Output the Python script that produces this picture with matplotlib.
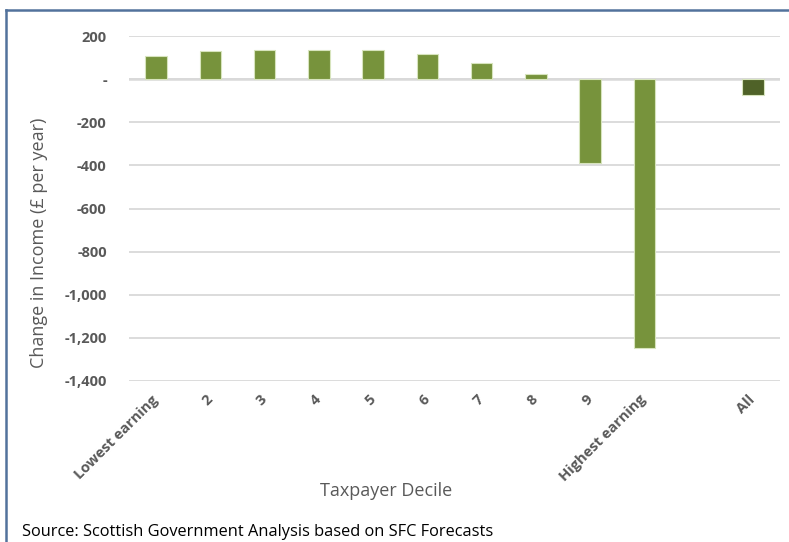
"""Change in income by taxpayer decile - bar chart recreation."""
import numpy as np
import matplotlib
matplotlib.use("Agg")
import matplotlib.pyplot as plt
from matplotlib.lines import Line2D
from matplotlib.ticker import FuncFormatter

plt.rcParams["font.family"] = ["Open Sans", "DejaVu Sans"]

C_BAR = "#77933C"
C_ALL = "#4F6228"
C_EDGE = "#D7E4BD"
C_GRID = "#D9D9D9"
C_TEXT = "#595959"
C_FRAME = "#52729C"

categories = ["Lowest earning", "2", "3", "4", "5", "6", "7", "8", "9",
              "Highest earning", "", "All"]
change = [108, 131, 134, 134, 134, 116, 75, 22, -388, -1245, np.nan, -73]
bar_colors = [C_BAR] * 10 + [C_BAR, C_ALL]

W, H = 789, 542
fig = plt.figure(figsize=(W / 100, H / 100), dpi=100)
fig.patch.set_facecolor("white")

ax = fig.add_axes([129 / W, 1 - 381 / H, 651 / W, 345 / H])
x = np.arange(len(categories))
ax.bar(x, change, width=0.4, color=bar_colors, edgecolor=C_EDGE,
       linewidth=0.8, zorder=3)

ax.set_xlim(-0.5, len(categories) - 0.5)
ax.set_ylim(-1400, 200)
ax.set_yticks(np.arange(-1400, 201, 200))
ax.yaxis.set_major_formatter(
    FuncFormatter(lambda v, _: "-" if v == 0 else f"{int(v):,}")
)
ax.grid(axis="y", color=C_GRID, linewidth=1.3, zorder=0)
ax.axhline(0, color=C_GRID, linewidth=1.8, zorder=1)
for s in ax.spines.values():
    s.set_visible(False)
ax.tick_params(axis="both", length=0, colors=C_TEXT)
ax.tick_params(axis="y", pad=16)

for lab in ax.get_yticklabels():
    lab.set_fontweight("bold")
    lab.set_fontsize(10.5)

ax.set_xticks(x)
ax.set_xticklabels(categories, rotation=45, ha="right", va="center",
                   rotation_mode="anchor", fontsize=10.5, fontweight="bold",
                   color=C_TEXT)
ax.tick_params(axis="x", pad=12)

ax.set_ylabel("Change in Income (£ per year)", fontsize=13, color=C_TEXT)
ax.yaxis.set_label_coords(-0.125, 0.40)
fig.text(386 / W, 1 - 491 / H, "Taxpayer Decile", ha="center", va="center",
         fontsize=13, color=C_TEXT)

fig.text(22 / W, 1 - 532 / H,
         "Source: Scottish Government Analysis based on SFC Forecasts",
         ha="left", va="center", fontsize=11.8, color="black")

# chart frame, clipped by the figure edge on the right and bottom
fig.add_artist(Line2D([6 / W, 6 / W], [0, 1 - 10 / H], color=C_FRAME,
                      linewidth=1.8, transform=fig.transFigure))
fig.add_artist(Line2D([6 / W, 1], [1 - 10 / H, 1 - 10 / H], color=C_FRAME,
                      linewidth=1.8, transform=fig.transFigure))

fig.savefig("out.png", dpi=100, facecolor="white")
